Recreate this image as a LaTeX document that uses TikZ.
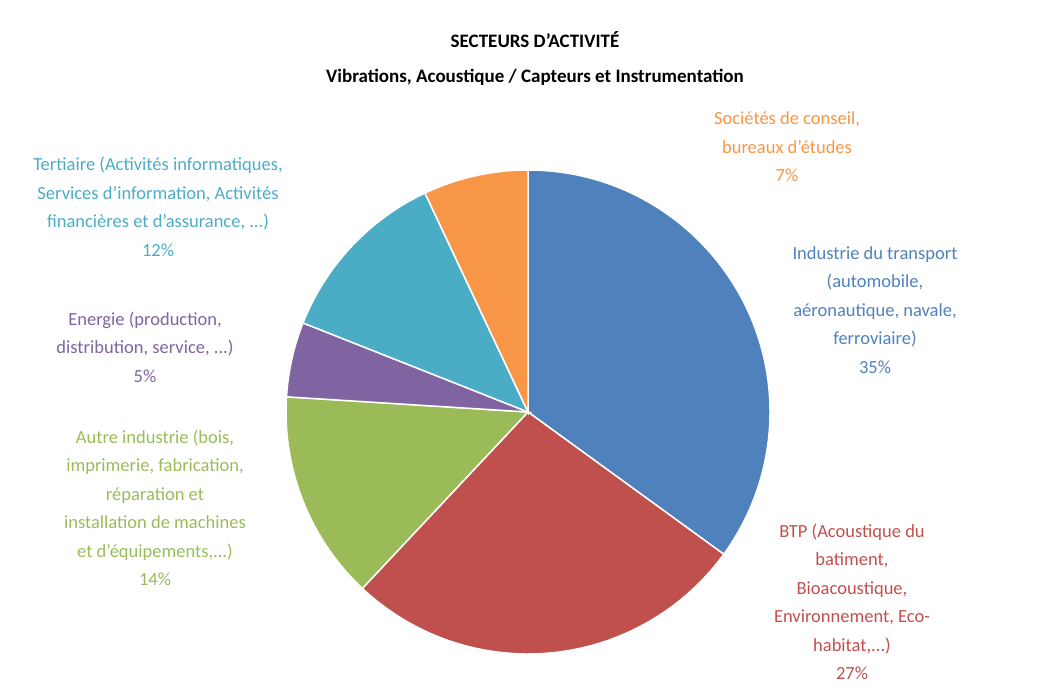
\documentclass[tikz,border=0pt]{standalone}
\usepackage{fontspec}
\setmainfont{Carlito}
\definecolor{cblue}{HTML}{4F81BD}
\definecolor{cred}{HTML}{C0504D}
\definecolor{cgreen}{HTML}{9BBB59}
\definecolor{cpurple}{HTML}{8064A2}
\definecolor{cteal}{HTML}{4BACC6}
\definecolor{corange}{HTML}{F79646}
\begin{document}
\begin{tikzpicture}[x=1pt,y=1pt,
  lbl/.style={align=center,font=\fontsize{18.5}{28.5}\selectfont},
  slice/.style={draw=white,line width=1.5pt}]
\useasboundingbox (0,0) rectangle (1043,697);
\coordinate (c) at (528,285);
\def\r{242}
\fill[cblue,slice] (c) -- ++(90:\r) arc[start angle=90,end angle=-36,radius=\r] -- cycle;
\fill[cred,slice] (c) -- ++(-36:\r) arc[start angle=-36,end angle=-133.2,radius=\r] -- cycle;
\fill[cgreen,slice] (c) -- ++(-133.2:\r) arc[start angle=-133.2,end angle=-183.6,radius=\r] -- cycle;
\fill[cpurple,slice] (c) -- ++(-183.6:\r) arc[start angle=-183.6,end angle=-201.6,radius=\r] -- cycle;
\fill[cteal,slice] (c) -- ++(-201.6:\r) arc[start angle=-201.6,end angle=-244.8,radius=\r] -- cycle;
\fill[corange,slice] (c) -- ++(-244.8:\r) arc[start angle=-244.8,end angle=-270,radius=\r] -- cycle;
\node[font=\bfseries\fontsize{19}{24}\selectfont] (t1) at (535,657) {SECTEURS D’ACTIVITÉ};
\node[font=\bfseries\fontsize{19}{24}\selectfont] (t2) at (535,620) {Vibrations, Acoustique / Capteurs et Instrumentation};
\node[lbl,text=corange] (lo) at (787,550) {Sociétés de conseil,\\bureaux d'études\\7\%};
\node[lbl,text=cblue] (lb) at (875,387) {Industrie du transport\\(automobile,\\aéronautique, navale,\\ferroviaire)\\35\%};
\node[lbl,text=cred] (lr) at (852,95) {BTP (Acoustique du\\batiment,\\Bioacoustique,\\Environnement, Eco-\\habitat,...)\\27\%};
\node[lbl,text=cgreen] (lg) at (155,189) {Autre industrie (bois,\\imprimerie, fabrication,\\réparation et\\installation de machines\\et d'équipements,...)\\14\%};
\node[lbl,text=cpurple] (lp) at (145,350) {Energie (production,\\distribution, service, ...)\\5\%};
\node[lbl,text=cteal] (lt) at (158,490) {Tertiaire (Activités informatiques,\\Services d'information, Activités\\financières et d'assurance, ...)\\12\%};
\end{tikzpicture}
\end{document}
